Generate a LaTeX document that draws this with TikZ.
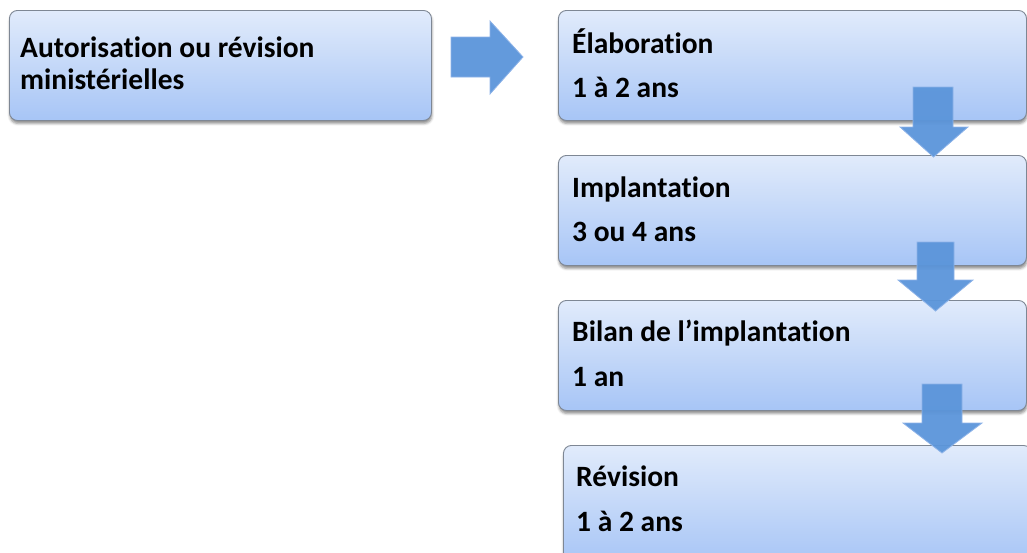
\documentclass[tikz,border=0pt]{standalone}
\usepackage{fontspec}
\setmainfont{Carlito}[Ligatures=NoCommon]
\usetikzlibrary{shadows.blur}
\definecolor{boxtop}{HTML}{E1EBFB}
\definecolor{boxbot}{HTML}{A7C5F6}
\definecolor{boxline}{HTML}{7E8794}
\definecolor{arrfill}{HTML}{5B95DA}
\definecolor{arredge}{HTML}{8DB3E8}
\tikzset{
  stagebox/.style={draw=boxline, line width=0.9pt, rounded corners=8pt,
    top color=boxtop, bottom color=boxbot, inner sep=0pt, anchor=north west,
    blur shadow={shadow xshift=0.5pt, shadow yshift=-3pt, shadow blur radius=2.5pt, shadow opacity=45}},
  lbl/.style={anchor=base west, inner sep=0pt, font=\fontsize{29.5}{34}\selectfont\bfseries},
  blockarrow/.style={fill=arrfill, draw=arredge, line width=0.8pt, fill opacity=0.95}
}
\begin{document}
\begin{tikzpicture}[x=1pt,y=-1pt]
\useasboundingbox (0,0) rectangle (1027,552);
\begin{scope}
\clip (0,0) rectangle (1027,552);
% boxes
\node[stagebox, minimum width=422pt, minimum height=110pt] (b0) at (9,10) {};
\node[stagebox, minimum width=468pt, minimum height=110pt] (b1) at (558,10) {};
\node[stagebox, minimum width=468pt, minimum height=110pt] (b2) at (558,155) {};
\node[stagebox, minimum width=468pt, minimum height=110pt] (b3) at (558,300) {};
\node[stagebox, minimum width=468pt, minimum height=118pt] (b4) at (563,445) {};
% texts
\node[lbl] (t0a) at (20,57) {Autorisation ou révision};
\node[lbl] (t0b) at (20,89) {ministérielles};
\node[lbl] (t1a) at (572,53) {Élaboration};
\node[lbl] (t1b) at (572,97) {1 à 2 ans};
\node[lbl] (t2a) at (572,197) {Implantation};
\node[lbl] (t2b) at (572,241) {3 ou 4 ans};
\node[lbl] (t3a) at (572,341) {Bilan de l’implantation};
\node[lbl] (t3b) at (572,386) {1 an};
\node[lbl] (t4a) at (576,486) {Révision};
\node[lbl] (t4b) at (576,531) {1 à 2 ans};
% arrows
\path[blockarrow] (451,37) -- (490,37) -- (490,21) -- (523,57) -- (490,94) -- (490,77) -- (451,77) -- cycle;
\path[blockarrow] (913,87) -- (953,87) -- (953,127) -- (968,127) -- (933.5,157) -- (900,127) -- (913,127) -- cycle;
\path[blockarrow] (917,242) -- (954,242) -- (954,280) -- (973,280) -- (935.5,311) -- (898,280) -- (917,280) -- cycle;
\path[blockarrow] (922,384) -- (962,384) -- (962,423) -- (982,423) -- (942,453) -- (903,423) -- (922,423) -- cycle;
\end{scope}
\end{tikzpicture}
\end{document}
